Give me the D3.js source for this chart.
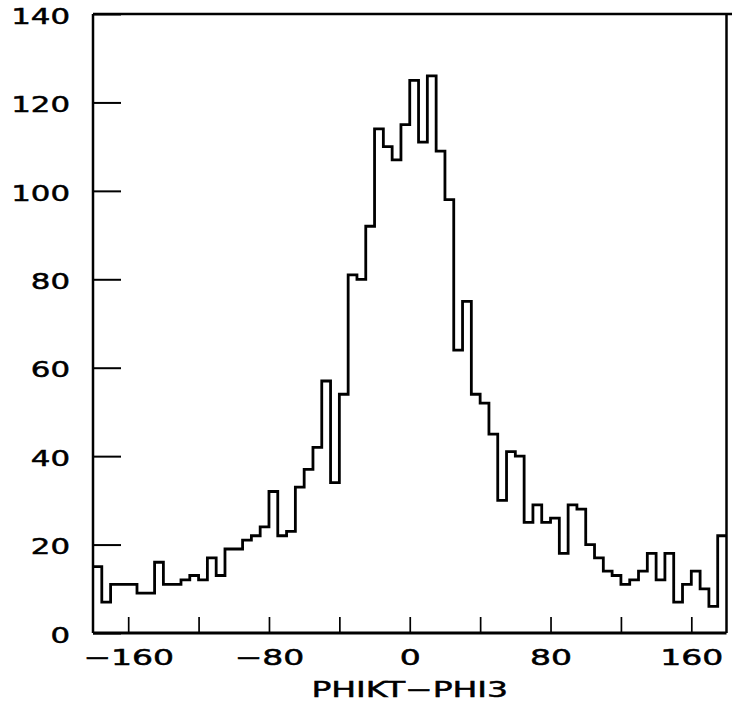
<!DOCTYPE html>
<html>
<head>
<meta charset="utf-8">
<script src="https://cdn.jsdelivr.net/npm/d3@7"></script>
<style>
  body { margin: 0; background: #fff; }
  svg { display: block; }
</style>
</head>
<body>
<div id="chart"></div>
<script>
// Histogram of PHIKT-PHI3, 5 degree bins from -180 to 180
const binStart = -180;
const binWidth = 5;
const counts = [
    15, 7, 11, 11, 11, 9, 9, 16, 11, 11,
    12, 13, 12, 17, 13, 19, 19, 21, 22, 24,
    32, 22, 23, 33, 37, 42, 57, 34, 54, 81,
    80, 92, 114, 110, 107, 115, 125, 111, 126, 109,
    98, 64, 75, 54, 52, 45, 30, 41, 40, 25,
    29, 25, 26, 18, 29, 28, 20, 17, 14, 13,
    11, 12, 14, 18, 12, 18, 7, 11, 14, 10,
    6, 22
];
const xTicks = [-160, -120, -80, -40, 0, 40, 80, 120, 160];
const xLabels = [-160, -80, 0, 80, 160];
const yTicks = [0, 20, 40, 60, 80, 100, 120, 140];
const xTitle = 'PHIKT\u2212PHI3';

const width = 732, height = 719;
const FONT = '"DejaVu Sans", sans-serif';

const svg = d3.select('#chart').append('svg')
    .attr('width', width)
    .attr('height', height);

const x = d3.scaleLinear().domain([-180, 180]).range([93, 726.5]);
const y = d3.scaleLinear().domain([0, 140]).range([633, 14]);

// y axis (ticks point inward)
const yAxis = svg.append('g')
    .attr('transform', `translate(${x(-180)},0)`)
    .call(d3.axisLeft(y).tickValues(yTicks).tickSizeInner(-28).tickSizeOuter(0)
        .tickPadding(0).tickFormat(d3.format('d')));
yAxis.select('.domain').remove();
yAxis.selectAll('line').attr('stroke', '#000').attr('stroke-width', 2);
yAxis.selectAll('text')
    .attr('x', null).attr('dy', '0.42em')
    .attr('text-anchor', 'end')
    .attr('transform', 'translate(-23,0) scale(1.4,1)')
    .attr('font-family', FONT).attr('font-size', 22)
    .attr('fill', '#000').attr('stroke', '#000').attr('stroke-width', 0.5);

// x axis
const xAxis = svg.append('g')
    .attr('transform', `translate(0,${y(0)})`)
    .call(d3.axisBottom(x).tickValues(xTicks).tickSizeInner(-16).tickSizeOuter(0)
        .tickPadding(0).tickFormat(d => xLabels.includes(d) ? d3.format('d')(d) : ''));
xAxis.select('.domain').remove();
xAxis.selectAll('line').attr('stroke', '#000').attr('stroke-width', 1.7);
xAxis.selectAll('text')
    .attr('y', null).attr('dy', null)
    .attr('text-anchor', 'middle')
    .attr('transform', 'translate(0,32) scale(1.5,1)')
    .attr('font-family', FONT).attr('font-size', 22)
    .attr('fill', '#000').attr('stroke', '#000').attr('stroke-width', 0.5);

// frame
const frame = svg.append('g').attr('stroke', '#000').attr('fill', 'none');
frame.append('line')
    .attr('x1', x(-180)).attr('x2', x(-180)).attr('y1', y(140)).attr('y2', y(0))
    .attr('stroke-width', 2.5);
frame.append('line')
    .attr('x1', x(-180)).attr('x2', x(180)).attr('y1', y(0)).attr('y2', y(0))
    .attr('stroke-width', 3);
frame.append('line')
    .attr('x1', x(180)).attr('x2', x(180)).attr('y1', y(140)).attr('y2', y(0))
    .attr('stroke-width', 2.5);
frame.append('line')
    .attr('x1', x(-180)).attr('x2', width).attr('y1', y(140)).attr('y2', y(140))
    .attr('stroke-width', 2.5);

// histogram outline
const bins = counts.map((c, i) => ({ x0: binStart + i * binWidth, c: c }));
bins.push({ x0: binStart + counts.length * binWidth, c: counts[counts.length - 1] });

const step = d3.line()
    .x(d => x(d.x0))
    .y(d => y(d.c))
    .curve(d3.curveStepAfter);

svg.append('path')
    .datum(bins)
    .attr('d', step)
    .attr('fill', 'none')
    .attr('stroke', '#000')
    .attr('stroke-width', 2.8)
    .attr('stroke-linejoin', 'miter');

// axis title
svg.append('text')
    .attr('transform', `translate(${x(0)},697) scale(1.5,1)`)
    .attr('text-anchor', 'middle')
    .attr('font-family', FONT)
    .attr('font-size', 22)
    .attr('fill', '#000').attr('stroke', '#000').attr('stroke-width', 0.5)
    .text(xTitle);
</script>
</body>
</html>
